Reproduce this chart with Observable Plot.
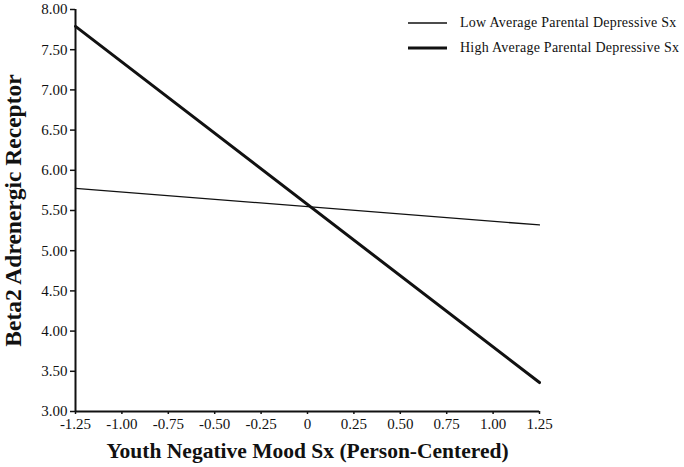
<!DOCTYPE html>
<html>
<head>
<meta charset="utf-8">
<script src="https://cdn.jsdelivr.net/npm/d3@7"></script>
<script src="https://cdn.jsdelivr.net/npm/@observablehq/plot@0.6"></script>
<style>
  html, body { margin: 0; padding: 0; background: #fff; }
  #wrap { position: relative; width: 684px; height: 467px; font-family: "Liberation Serif", "Times New Roman", serif; }
  #legend { position: absolute; left: 408px; top: 10px; font-size: 14px; letter-spacing: 0.25px; color: #111; white-space: nowrap; }
  .item { display: flex; align-items: center; height: 25px; white-space: nowrap; }
  .item svg { margin-right: 13px; flex: none; }
</style>
</head>
<body>
<div id="wrap"></div>
<script>
const xValues = [-1.25, 1.25];
const lowValues = [5.775, 5.32];
const highValues = [7.79, 3.36];
const seriesNames = ["Low Average Parental Depressive Sx", "High Average Parental Depressive Sx"];
const xTicks = [-1.25, -1.00, -0.75, -0.50, -0.25, 0, 0.25, 0.50, 0.75, 1.00, 1.25];
const yTicks = [3.00, 3.50, 4.00, 4.50, 5.00, 5.50, 6.00, 6.50, 7.00, 7.50, 8.00];
const xTitle = "Youth Negative Mood Sx (Person-Centered)";
const yTitle = "Beta2 Adrenergic Receptor";

const lowData = xValues.map((x, i) => ({x, y: lowValues[i]}));
const highData = xValues.map((x, i) => ({x, y: highValues[i]}));
const fmt2 = d => (d < 0 ? "-" : "") + Math.abs(d).toFixed(2);

const chart = Plot.plot({
  width: 684,
  height: 467,
  marginLeft: 75,
  marginRight: 145,
  marginTop: 9,
  marginBottom: 56,
  style: { fontFamily: "Liberation Serif, Times New Roman, serif", fontSize: "15px", color: "#111", background: "#fff" },
  x: { domain: [-1.25, 1.25] },
  y: { domain: [3, 8] },
  marks: [
    Plot.axisY({
      ticks: yTicks, tickSize: 5, tickPadding: 3, strokeWidth: 1.5,
      tickFormat: fmt2, fontSize: 15,
      label: null
    }),
    Plot.axisY({
      ticks: [], label: yTitle, labelAnchor: "center", labelOffset: 71, labelArrow: "none",
      fontSize: 23.5, fontWeight: "bold"
    }),
    Plot.axisX({
      ticks: xTicks, tickSize: 3, tickPadding: 4, strokeWidth: 1.5,
      tickFormat: d => d === 0 ? "0" : fmt2(d), fontSize: 15,
      label: null
    }),
    Plot.axisX({
      ticks: [], label: xTitle, labelAnchor: "center", labelOffset: 46, labelArrow: "none",
      fontSize: 21.5, fontWeight: "bold"
    }),
    Plot.ruleX([-1.25], {y1: 3, y2: 8, stroke: "#111", strokeWidth: 2}),
    Plot.ruleY([3], {x1: -1.25, x2: 1.25, stroke: "#111", strokeWidth: 2}),
    Plot.line(lowData, {x: "x", y: "y", stroke: "#111", strokeWidth: 1.3}),
    Plot.line(highData, {x: "x", y: "y", stroke: "#111", strokeWidth: 3})
  ]
});

const wrap = document.getElementById("wrap");
wrap.appendChild(chart);

const legend = document.createElement("div");
legend.id = "legend";
seriesNames.forEach((name, i) => {
  const item = document.createElement("div");
  item.className = "item";
  const sw = i === 0 ? 1.3 : 3;
  item.innerHTML = `<svg width="39" height="8"><line x1="0" x2="39" y1="4" y2="4" stroke="#111" stroke-width="${sw}"/></svg><span>${name}</span>`;
  legend.appendChild(item);
});
wrap.appendChild(legend);
</script>
</body>
</html>
